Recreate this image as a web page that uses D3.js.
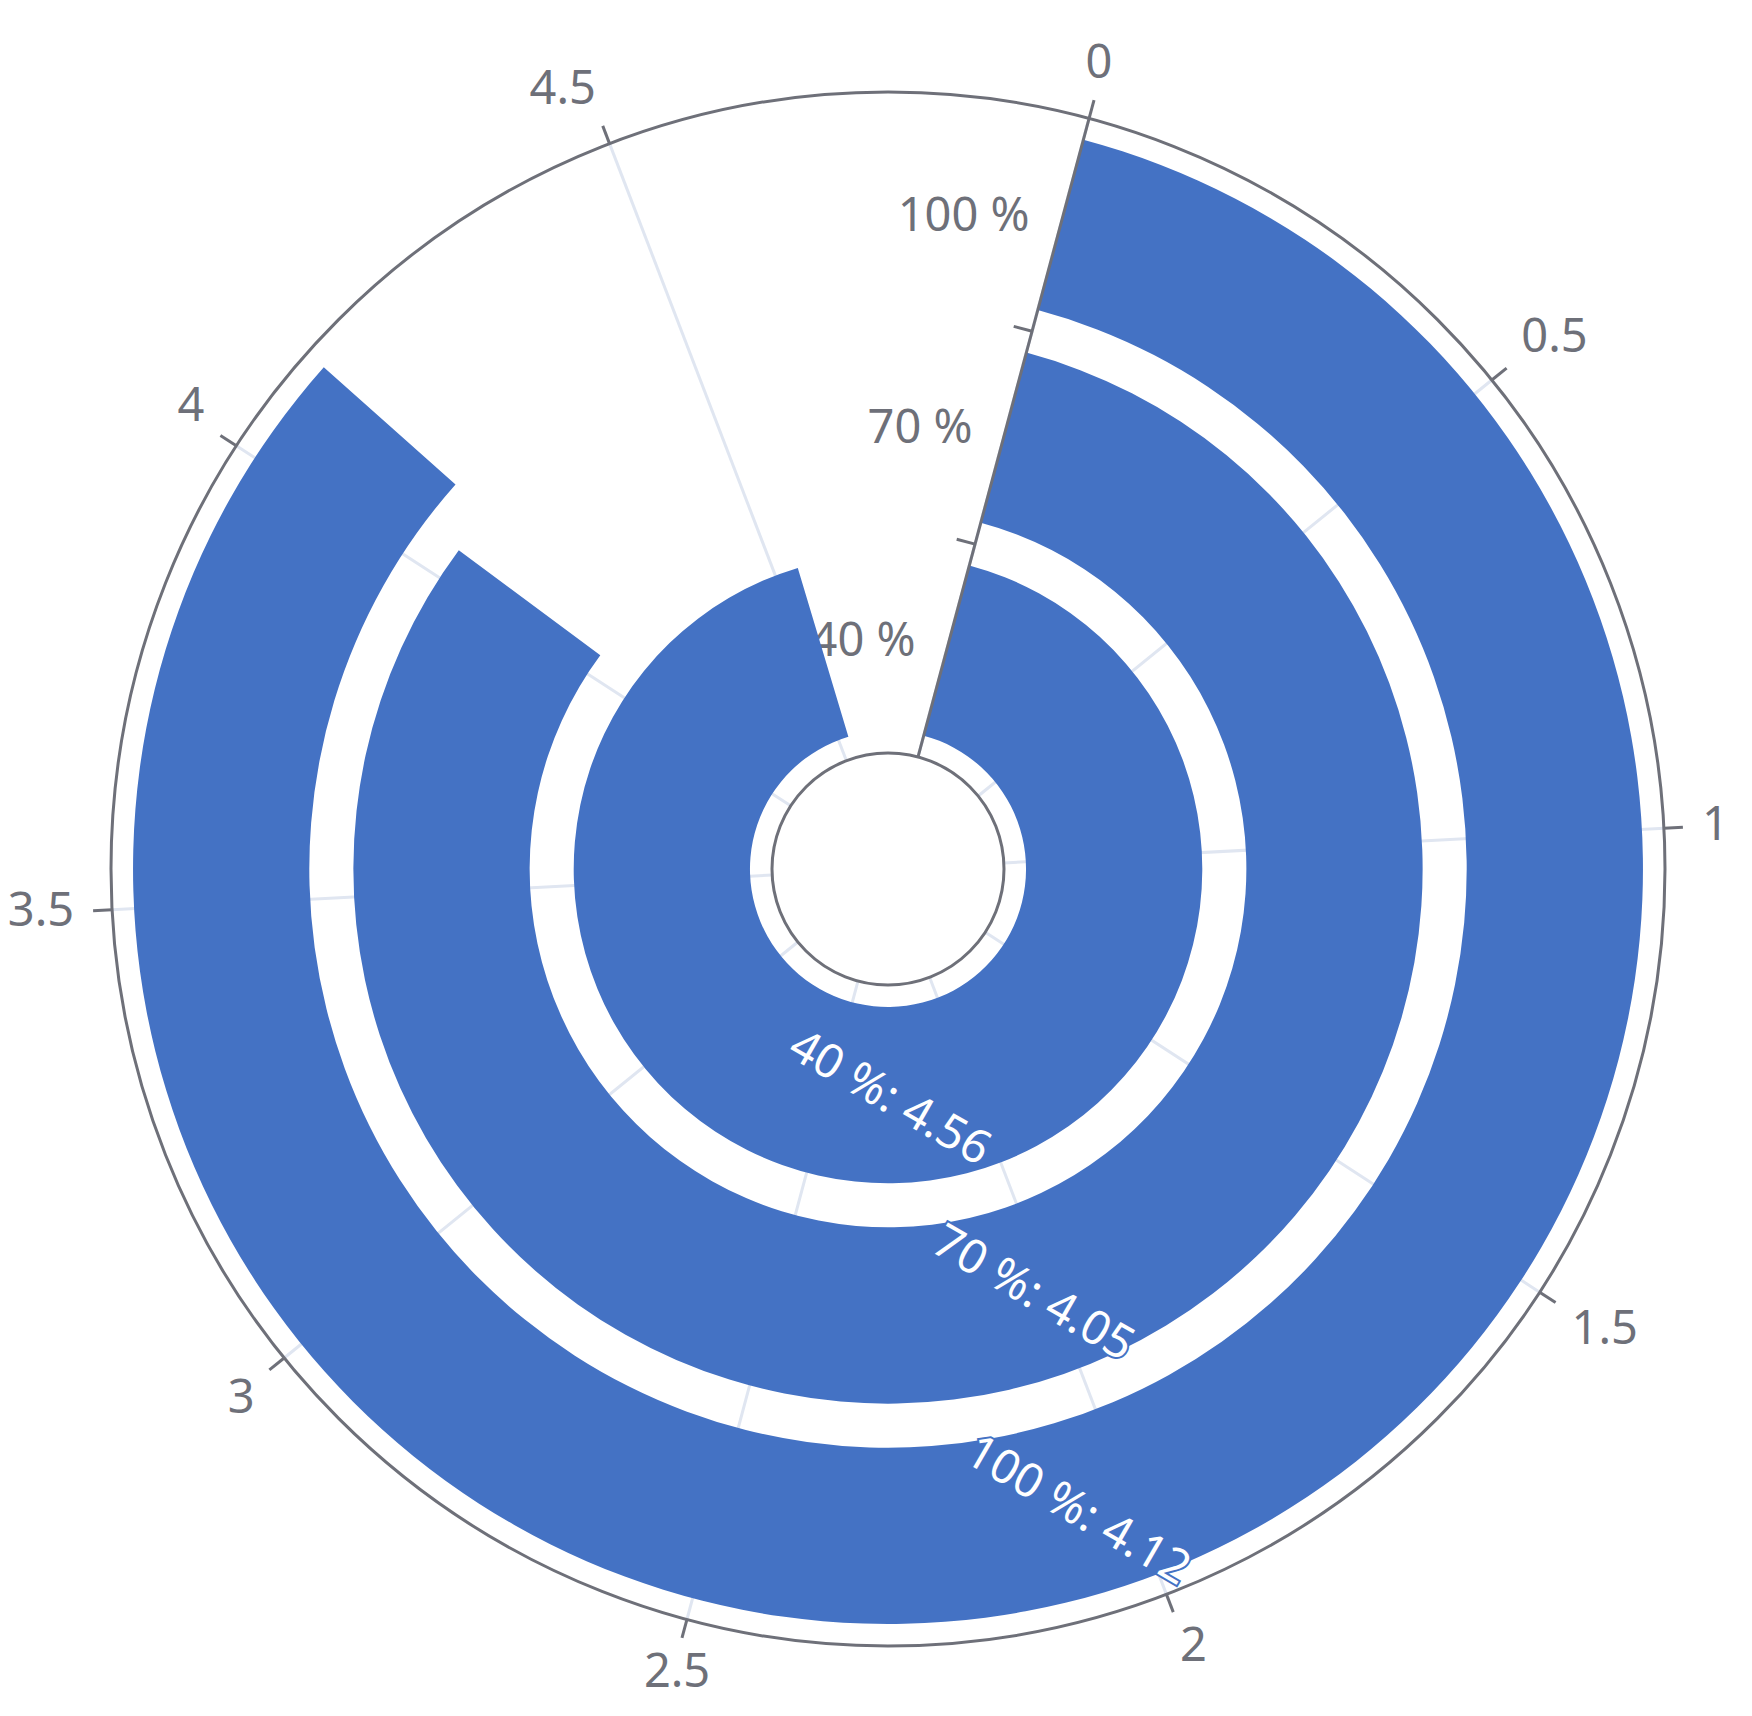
<!DOCTYPE html>
<html>
<head>
<meta charset="utf-8">
<script src="https://cdn.jsdelivr.net/npm/d3@7"></script>
<style>
  body { margin: 0; background: #fff; }
  text { font-family: "Noto Sans", sans-serif; }
</style>
</head>
<body>
<div id="chart"></div>
<script>
// data
var categories = ['40 %', '70 %', '100 %'];
var values = [4.56, 4.05, 4.12];
var angleTicks = [0, 0.5, 1, 1.5, 2, 2.5, 3, 3.5, 4, 4.5];
var angleMax = 5;

// size of the svg
var w = 1752, h = 1716;
var cx = 888, cy = 869;
var innerR = 116, outerR = 777;
var startDeg = 15;
var axisColor = '#6E7079';
var barColor = '#4472C4';
var fontSize = 47;

var svg = d3.select('#chart')
    .append('svg')
    .attr('width', w)
    .attr('height', h)
    .append('g')
    .attr('transform', `translate(${cx},${cy})`);

var rad = Math.PI / 180;

// angle scale, d3 arc angles: 0 at top, clockwise
var aScale = d3.scaleLinear()
    .domain([0, angleMax])
    .range([startDeg * rad, (startDeg + 360) * rad]);

var rScale = d3.scaleBand()
    .domain(categories)
    .range([innerR, outerR])
    .paddingInner(0.2)
    .paddingOuter(0.1);

function pt(a, r) {
    return [r * Math.sin(a), -r * Math.cos(a)];
}

// split lines
svg.append('g').selectAll('line')
    .data(angleTicks)
    .enter()
    .append('line')
    .attr('x1', function (d) { return pt(aScale(d), innerR)[0]; })
    .attr('y1', function (d) { return pt(aScale(d), innerR)[1]; })
    .attr('x2', function (d) { return pt(aScale(d), outerR)[0]; })
    .attr('y2', function (d) { return pt(aScale(d), outerR)[1]; })
    .attr('stroke', '#E0E6F1')
    .attr('stroke-width', 3);

// radial axis labels (under the bars)
var a0 = aScale(0);
var perp = [-Math.cos(a0), -Math.sin(a0)];
svg.append('g').selectAll('text')
    .data(categories)
    .enter()
    .append('text')
    .attr('x', function (d) {
        return pt(a0, rScale(d) + rScale.bandwidth() / 2)[0] + perp[0] * 32;
    })
    .attr('y', function (d) {
        return pt(a0, rScale(d) + rScale.bandwidth() / 2)[1] + perp[1] * 32;
    })
    .attr('dy', -4)
    .attr('text-anchor', 'end')
    .attr('dominant-baseline', 'central')
    .attr('fill', axisColor)
    .attr('font-size', fontSize)
    .text(function (d) { return d; });

// bars
var arc = d3.arc()
    .innerRadius(function (d) { return rScale(d.cat); })
    .outerRadius(function (d) { return rScale(d.cat) + rScale.bandwidth(); })
    .startAngle(aScale(0))
    .endAngle(function (d) { return aScale(d.value); });

var rows = categories.map(function (c, i) { return { cat: c, value: values[i] }; });

svg.append('g').selectAll('path')
    .data(rows)
    .enter()
    .append('path')
    .attr('d', arc)
    .attr('fill', barColor);

// bar labels
svg.append('g').selectAll('text')
    .data(rows)
    .enter()
    .append('text')
    .attr('transform', function (d) {
        var p = pt((aScale(0) + aScale(d.value)) / 2, rScale(d.cat) + rScale.bandwidth() / 2);
        return `translate(${p[0]},${p[1]}) rotate(30)`;
    })
    .attr('text-anchor', 'middle')
    .attr('dominant-baseline', 'central')
    .attr('fill', '#fff')
    .attr('stroke', barColor)
    .attr('stroke-width', 4)
    .attr('paint-order', 'stroke')
    .attr('font-size', fontSize)
    .text(function (d) { return d.cat + ': ' + d.value; });

// angle axis ring
svg.append('g').selectAll('circle')
    .data([innerR, outerR])
    .enter()
    .append('circle')
    .attr('r', function (d) { return d; })
    .attr('fill', 'none')
    .attr('stroke', axisColor)
    .attr('stroke-width', 3);

// angle ticks
svg.append('g').selectAll('line')
    .data(angleTicks)
    .enter()
    .append('line')
    .attr('x1', function (d) { return pt(aScale(d), outerR)[0]; })
    .attr('y1', function (d) { return pt(aScale(d), outerR)[1]; })
    .attr('x2', function (d) { return pt(aScale(d), outerR + 19)[0]; })
    .attr('y2', function (d) { return pt(aScale(d), outerR + 19)[1]; })
    .attr('stroke', axisColor)
    .attr('stroke-width', 3);

// angle labels
svg.append('g').selectAll('text')
    .data(angleTicks)
    .enter()
    .append('text')
    .attr('x', function (d) { return pt(aScale(d), outerR + 38)[0]; })
    .attr('y', function (d) { return pt(aScale(d), outerR + 38)[1]; })
    .attr('text-anchor', function (d) {
        var s = Math.sin(aScale(d));
        return Math.abs(s) < 0.3 ? 'middle' : (s > 0 ? 'start' : 'end');
    })
    .attr('dominant-baseline', function (d) {
        var c = -Math.cos(aScale(d));
        return Math.abs(c) < 0.3 ? 'central' : (c > 0 ? 'hanging' : 'alphabetic');
    })
    .attr('dy', function (d) {
        var c = -Math.cos(aScale(d));
        return Math.abs(c) < 0.3 ? -4 : (c > 0 ? -9 : -4);
    })
    .attr('fill', axisColor)
    .attr('font-size', fontSize)
    .text(function (d) { return d; });

// radial axis line and ticks
svg.append('line')
    .attr('x1', pt(a0, innerR)[0])
    .attr('y1', pt(a0, innerR)[1])
    .attr('x2', pt(a0, outerR)[0])
    .attr('y2', pt(a0, outerR)[1])
    .attr('stroke', axisColor)
    .attr('stroke-width', 3);

svg.append('g').selectAll('line')
    .data(categories.slice(1))
    .enter()
    .append('line')
    .attr('x1', function (d) { return pt(a0, rScale(d) - rScale.step() * 0.1)[0]; })
    .attr('y1', function (d) { return pt(a0, rScale(d) - rScale.step() * 0.1)[1]; })
    .attr('x2', function (d) { return pt(a0, rScale(d) - rScale.step() * 0.1)[0] + perp[0] * 19; })
    .attr('y2', function (d) { return pt(a0, rScale(d) - rScale.step() * 0.1)[1] + perp[1] * 19; })
    .attr('stroke', axisColor)
    .attr('stroke-width', 3);
</script>
</body>
</html>
